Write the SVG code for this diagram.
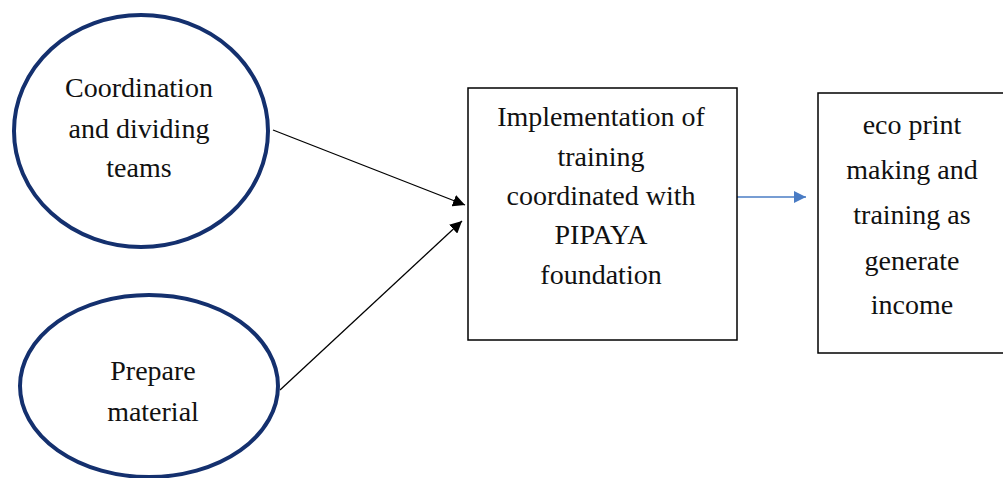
<svg xmlns="http://www.w3.org/2000/svg" width="1003" height="478" viewBox="0 0 1003 478">
<style>
.ell{fill:#fff;stroke:#14306e;stroke-width:4}
.box{fill:#fff;stroke:#000;stroke-width:1.5}
.t{font-family:"Liberation Serif","Times New Roman",serif;font-size:28px;fill:#111;text-anchor:middle}
.c{stroke:#000;stroke-width:1.3;fill:none}
.cb{stroke:#4a7cc4;stroke-width:1.3;fill:none}
</style>
<defs>
<marker id="ah" viewBox="0 0 10 10" refX="10" refY="5" markerWidth="12" markerHeight="12" markerUnits="userSpaceOnUse" orient="auto"><path d="M0,0L10,5L0,10z" fill="#000"/></marker>
<marker id="ahb" viewBox="0 0 10 10" refX="10" refY="5" markerWidth="12" markerHeight="12" markerUnits="userSpaceOnUse" orient="auto"><path d="M0,0L10,5L0,10z" fill="#4a7cc4"/></marker>
</defs>
<rect width="1003" height="478" fill="#fff"/>
<g id="connectors">
<line class="c" x1="273" y1="130" x2="465" y2="205" marker-end="url(#ah)"/>
<line class="c" x1="280" y1="390" x2="462" y2="221" marker-end="url(#ah)"/>
<line class="cb" x1="735" y1="197" x2="806" y2="197" marker-end="url(#ahb)"/>
</g>
<g id="n1">
<ellipse class="ell" cx="141" cy="131" rx="127" ry="116"/>
<text class="t" x="139" y="97">Coordination</text>
<text class="t" x="139" y="138">and dividing</text>
<text class="t" x="139" y="177">teams</text>
</g>
<g id="n2">
<ellipse class="ell" cx="149" cy="386" rx="129" ry="91"/>
<text class="t" x="153" y="380">Prepare</text>
<text class="t" x="153" y="421">material</text>
</g>
<g id="n3">
<rect class="box" x="468" y="88" width="269" height="252"/>
<text class="t" x="601" y="126">Implementation of</text>
<text class="t" x="601" y="166">training</text>
<text class="t" x="601" y="205">coordinated with</text>
<text class="t" x="601" y="244">PIPAYA</text>
<text class="t" x="601" y="284">foundation</text>
</g>
<g id="n4">
<rect class="box" x="818" y="93" width="195" height="260"/>
<text class="t" x="912" y="134">eco print</text>
<text class="t" x="912" y="179">making and</text>
<text class="t" x="912" y="224">training as</text>
<text class="t" x="912" y="270">generate</text>
<text class="t" x="912" y="314">income</text>
</g>
</svg>
